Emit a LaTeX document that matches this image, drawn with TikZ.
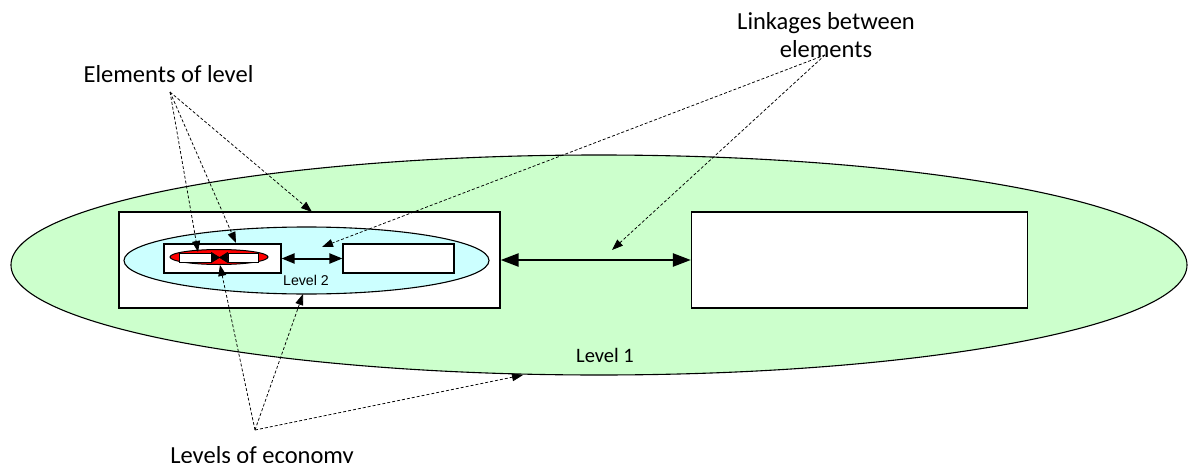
\documentclass[tikz,border=0pt]{standalone}
\usepackage{fontspec}
\setmainfont{Carlito}
\newfontfamily\arialfont{Liberation Sans}
\usetikzlibrary{arrows.meta,shapes.geometric,calc}
\definecolor{lvlgreen}{HTML}{CCFFCC}
\definecolor{lvlblue}{HTML}{CCFFFF}
\definecolor{lvlred}{HTML}{FF0000}
\tikzset{
  oval/.style={ellipse, draw=black, line width=1.1pt, inner sep=0pt},
  box/.style={rectangle, draw=black, line width=1.3pt, fill=white, inner sep=0pt},
  smallbox/.style={rectangle, draw=black, line width=0.9pt, fill=white, inner sep=0pt},
  pointer/.style={dash pattern=on 3pt off 2pt, line width=0.75pt, -{Triangle[length=11pt,width=8pt]}},
  bigarrow/.style={line width=2.4pt, {Triangle[length=18pt,width=13pt]}-{Triangle[length=18pt,width=13pt]}},
  midarrow/.style={line width=2pt, {Triangle[length=13pt,width=10pt]}-{Triangle[length=13pt,width=10pt]}},
  bowtie/.style={fill=black, draw=black, line width=0.6pt, line join=miter},
  biglabel/.style={font=\fontsize{24.5}{29}\selectfont, inner sep=0pt, anchor=base},
  lvlone/.style={font=\fontsize{20.5}{24}\selectfont, inner sep=0pt, anchor=base},
  lvltwo/.style={font=\arialfont\fontsize{14.2}{17}\selectfont, inner sep=0pt, anchor=base}
}
\begin{document}
\begin{tikzpicture}[x=1pt,y=-1pt]
\useasboundingbox (0,0) rectangle (1192,463);
% level 1
\node[oval, fill=lvlgreen, minimum width=1176pt, minimum height=220pt] (l1) at (599,265) {};
\node[box, minimum width=381pt, minimum height=96pt] (lrect) at (309.5,260) {};
\node[box, minimum width=336pt, minimum height=96pt] (rrect) at (859.5,260) {};
% level 2
\node[oval, fill=lvlblue, minimum width=365pt, minimum height=67pt] (l2) at (306.5,260.5) {};
\node[box, line width=1.1pt, minimum width=117pt, minimum height=29pt] (ilrect) at (222.5,258.5) {};
\node[box, line width=1.1pt, minimum width=111pt, minimum height=29pt] (irrect) at (398.5,258.5) {};
% level 3
\node[oval, fill=lvlred, line width=1pt, minimum width=98pt, minimum height=15pt] (l3) at (219,257) {};
\node[smallbox, minimum width=32pt, minimum height=9pt] (sl) at (195,257.5) {};
\node[smallbox, minimum width=30pt, minimum height=9pt] (sr) at (243,257.5) {};
% linkages
\coordinate (bm) at ($(sl.east)!0.5!(sr.west)$);
\path[bowtie] ($(sl.east)+(0,-5)$) -- (bm) -- ($(sl.east)+(0,5)$) -- cycle;
\path[bowtie] ($(sr.west)+(0,-5)$) -- (bm) -- ($(sr.west)+(0,5)$) -- cycle;
\draw[line width=1pt] (sl.east) -- (sr.west);
\draw[midarrow] (ilrect.east) -- (irrect.west);
\draw[bigarrow] (lrect.east) -- (rrect.west);
% texts
\node[lvltwo] (t2) at (306,285) {Level 2};
\node[lvlone] (t1) at (605,362.7) {Level 1};
\node[biglabel] (elem) at (168.5,82.3) {Elements of level};
\node[biglabel] (lnk1) at (826,29) {Linkages between};
\node[biglabel] (lnk2) at (826,57) {elements};
\node[biglabel] (econ) at (262,463) {Levels of economy};
% pointer origins and targets
\coordinate (eo) at (170,92);
\coordinate (lo) at (825,55);
\coordinate (vo) at (255,430);
\coordinate (e1) at (312,212);
\coordinate (e2) at (198,252);
\coordinate (e3) at (236,243);
\coordinate (k1) at (322,247);
\coordinate (k2) at (612,250);
\coordinate (v1) at (220,265);
\coordinate (v2) at (303,294);
\coordinate (v3) at (523,375);
\draw[pointer] (eo) -- (e1);
\draw[pointer] (eo) -- (e2);
\draw[pointer] (eo) -- (e3);
\draw[pointer] (lo) -- (k1);
\draw[pointer] (lo) -- (k2);
\draw[pointer] (vo) -- (v1);
\draw[pointer] (vo) -- (v2);
\draw[pointer] (vo) -- (v3);
\end{tikzpicture}
\end{document}
